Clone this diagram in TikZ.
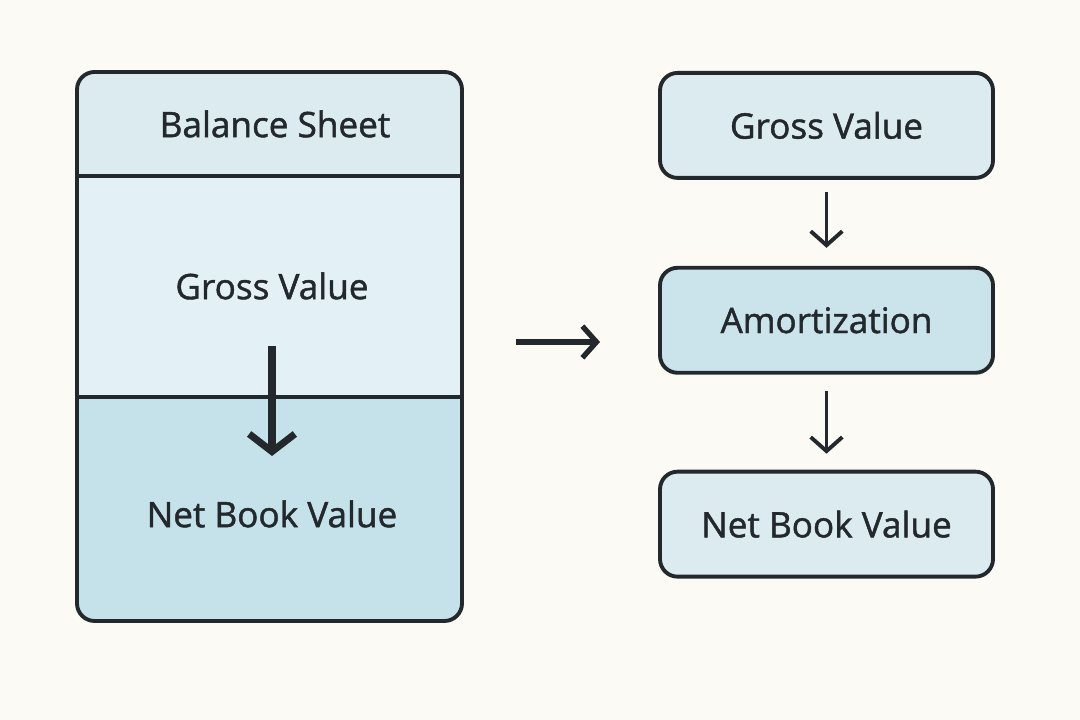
\documentclass[tikz,border=0pt]{standalone}
\usepackage{fontspec}
\setmainfont{Open Sans}
\newfontfamily\semib{Open Sans}[FakeBold=1.3]
\usetikzlibrary{positioning,arrows.meta}
\definecolor{paper}{HTML}{FCFAF4}
\definecolor{headfill}{HTML}{DCEBF0}
\definecolor{midfill}{HTML}{E3F1F7}
\definecolor{lowfill}{HTML}{C5E1E9}
\definecolor{ink}{HTML}{22282C}
\tikzset{
	card/.style={draw=ink, line width=1.1pt, rounded corners=5pt, fill=headfill,
		minimum width=3.33cm, minimum height=1.05cm},
	lbl/.style={text=ink, font=\semib\fontsize{10}{12}\selectfont},
	flow/.style={->, draw=ink, line width=1.1pt, >={Straight Barb[length=4pt,width=9pt]}},
	bigflow/.style={->, draw=ink, line width=2pt, >={Straight Barb[length=5pt,width=13pt]}}
}
\begin{document}
\begin{tikzpicture}
	% Canvas
	\fill [paper] (0,0) rectangle (10.8,7.2);
	\useasboundingbox (0,0) rectangle (10.8,7.2);
	% Balance sheet
	\begin{scope}
		\clip [rounded corners=5pt] (0.77,0.99) rectangle (4.62,6.48);
		\fill [headfill] (0.77,5.44) rectangle (4.62,6.48);
		\fill [midfill] (0.77,3.23) rectangle (4.62,5.44);
		\fill [lowfill] (0.77,0.99) rectangle (4.62,3.23);
	\end{scope}
	\draw [ink, line width=1.1pt, rounded corners=5pt] (0.77,0.99) rectangle (4.62,6.48);
	\draw [ink, line width=1.1pt] (0.77,5.44) -- (4.62,5.44);
	\draw [ink, line width=1.1pt] (0.77,3.23) -- (4.62,3.23);
	\node [lbl] (sheet) at (2.75,5.96) {Balance Sheet};
	\node [lbl] (sgross) at (2.72,4.34) {Gross Value};
	\node [lbl] (snet) at (2.72,2.06) {Net Book Value};
	\coordinate (stop) at (2.72,3.74);
	\coordinate (send) at (2.72,2.64);
	\draw [bigflow] (stop) -- (send);
	% Transition
	\coordinate (ta) at (5.16,3.78);
	\coordinate (tb) at (6.0,3.78);
	\draw [flow, line width=1.5pt] (ta) -- (tb);
	% Flow on the right
	\node [card] (gross) at (8.265,6.49) [anchor=north] {};
	\node [lbl] at (gross) {Gross Value};
	\node [card, fill=lowfill!90!white, below=0.86cm of gross] (amort) {};
	\node [lbl] at (amort) {Amortization};
	\node [card, fill=headfill, below=0.95cm of amort] (net) {};
	\node [lbl] at (net) {Net Book Value};
	\draw [flow] ([yshift=-0.12cm]gross.south) -- ([yshift=0.18cm]amort.north);
	\draw [flow] ([yshift=-0.16cm]amort.south) -- ([yshift=0.16cm]net.north);
\end{tikzpicture}
\end{document}
